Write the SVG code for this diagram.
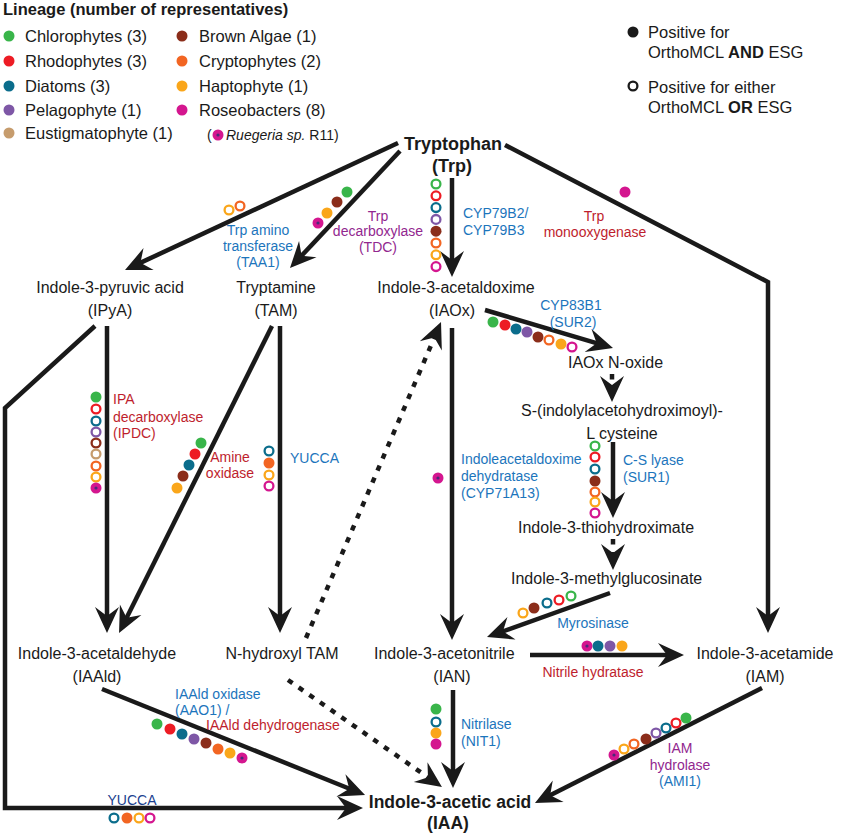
<svg xmlns="http://www.w3.org/2000/svg" width="851" height="837" viewBox="0 0 851 837">
<style>
text{font-family:"Liberation Sans",Arial,sans-serif;fill:#1a1a1a}
.n{font-size:16px}
.b{font-size:18px;font-weight:bold}
.e{font-size:14px}
.lg{font-size:16.5px}
.m{text-anchor:middle}
.bl{fill:#1c75bc}.rd{fill:#be1e2d}.pu{fill:#92278f}.nv{fill:#1b3f8f}
.ln{stroke:#1a1a1a;stroke-width:4.5;fill:none;stroke-linejoin:miter}
.dt{stroke-dasharray:5.5 7.5}
.fg{fill:#39b54a}.fr{fill:#ed1c24}.ft{fill:#0b6d8c}.fp{fill:#7e57a6}.fn{fill:#c69c6d}.fb{fill:#8b2d1a}.fo{fill:#f26522}.fy{fill:#faa61a}.fm{fill:#d4168f}.fk{fill:#1a1a1a}
.o{fill:#fff;stroke-width:2.3}
.og{stroke:#39b54a}.or{stroke:#ed1c24}.ot{stroke:#0b6d8c}.op{stroke:#7e57a6}.on{stroke:#c69c6d}.ob{stroke:#8b2d1a}.oo{stroke:#f26522}.oy{stroke:#faa61a}.om{stroke:#d4168f}.ok{stroke:#1a1a1a}
</style>
<defs>
<marker id="ah" markerUnits="userSpaceOnUse" markerWidth="40" markerHeight="40" viewBox="-20 -20 40 40" refX="0" refY="0" orient="auto"><path d="M12,0 L-14,-12 L-5,0 L-14,12 Z" fill="#1a1a1a"/></marker>
<g id="rg"><circle r="5.5" fill="#d4168f"/><circle r="1.6" fill="#4b2a7a"/></g>
</defs>
<rect width="851" height="837" fill="#fff"/>

<g id="legend">
<text x="3" y="15" style="font-size:16.5px;font-weight:bold">Lineage (number of representatives)</text>
<circle cx="9" cy="36" r="5.5" class="fg"/><text x="25" y="42" class="lg">Chlorophytes (3)</text>
<circle cx="9" cy="61" r="5.5" class="fr"/><text x="25" y="67" class="lg">Rhodophytes (3)</text>
<circle cx="9" cy="86" r="5.5" class="ft"/><text x="25" y="92" class="lg">Diatoms (3)</text>
<circle cx="9" cy="110" r="5.5" class="fp"/><text x="25" y="116" class="lg">Pelagophyte (1)</text>
<circle cx="9" cy="133" r="5.5" class="fn"/><text x="25" y="139" class="lg">Eustigmatophyte (1)</text>
<circle cx="182" cy="36" r="5.5" class="fb"/><text x="199" y="42" class="lg">Brown Algae (1)</text>
<circle cx="182" cy="61" r="5.5" class="fo"/><text x="199" y="67" class="lg">Cryptophytes (2)</text>
<circle cx="182" cy="86" r="5.5" class="fy"/><text x="199" y="92" class="lg">Haptophyte (1)</text>
<circle cx="182" cy="110" r="5.5" class="fm"/><text x="199" y="116" class="lg">Roseobacters (8)</text>
<text x="207" y="140" class="e">(</text><use href="#rg" x="218" y="135"/><text x="226" y="140" class="e"><tspan font-style="italic">Ruegeria sp.</tspan> R11)</text>
<circle cx="633" cy="32" r="5.5" class="fk"/><text x="648" y="38" class="lg">Positive for</text><text x="648" y="58" class="lg">OrthoMCL <tspan font-weight="bold">AND</tspan> ESG</text>
<circle cx="633" cy="86" r="4.4" class="o ok"/><text x="648" y="93" class="lg">Positive for either</text><text x="648" y="113" class="lg">OrthoMCL <tspan font-weight="bold">OR</tspan> ESG</text>
</g>

<g id="connectors">
<line class="ln" x1="398" y1="143" x2="135.9" y2="264.9" marker-end="url(#ah)"/>
<line class="ln" x1="400" y1="151" x2="298.2" y2="259.3" marker-end="url(#ah)"/>
<line class="ln" x1="452" y1="178" x2="452" y2="265" marker-end="url(#ah)"/>
<polyline class="ln" points="505,145 768,282 768,621" marker-end="url(#ah)"/>
<line class="ln" x1="485" y1="310" x2="601.5" y2="344.6" marker-end="url(#ah)"/>
<line class="ln dt" x1="612" y1="374" x2="612" y2="390" marker-end="url(#ah)"/>
<line class="ln" x1="613" y1="442" x2="613" y2="506" marker-end="url(#ah)"/>
<line class="ln dt" x1="613" y1="539" x2="613" y2="558" marker-end="url(#ah)"/>
<line class="ln" x1="610" y1="593" x2="498.3" y2="633" marker-end="url(#ah)"/>
<line class="ln" x1="452" y1="328" x2="452" y2="628" marker-end="url(#ah)"/>
<line class="ln" x1="530" y1="655" x2="672" y2="655" marker-end="url(#ah)"/>
<line class="ln" x1="107" y1="326" x2="107" y2="621" marker-end="url(#ah)"/>
<line class="ln" x1="272" y1="326" x2="124.4" y2="622.3" marker-end="url(#ah)"/>
<line class="ln" x1="280" y1="326" x2="280" y2="621" marker-end="url(#ah)"/>
<line class="ln dt" x1="306" y1="638" x2="436.3" y2="333" marker-end="url(#ah)"/>
<line class="ln dt" x1="288" y1="680" x2="432.1" y2="780.2" marker-end="url(#ah)"/>
<line class="ln" x1="453" y1="690" x2="453" y2="776" marker-end="url(#ah)"/>
<line class="ln" x1="102" y1="689" x2="353.9" y2="790.5" marker-end="url(#ah)"/>
<polyline class="ln" points="95,326 5,408 5,808 351,808" marker-end="url(#ah)"/>
<line class="ln" x1="762" y1="688" x2="545.7" y2="797.6" marker-end="url(#ah)"/>
</g>

<g id="trp"><text x="453" y="150" class="b m">Tryptophan</text><text x="452" y="172" class="b m">(Trp)</text></g>
<g id="ipya"><text x="110" y="293" class="n m">Indole-3-pyruvic acid</text><text x="110" y="316" class="n m">(IPyA)</text></g>
<g id="tam"><text x="276" y="293" class="n m">Tryptamine</text><text x="276" y="316" class="n m">(TAM)</text></g>
<g id="iaox"><text x="456" y="293" class="n m">Indole-3-acetaldoxime</text><text x="452" y="316" class="n m">(IAOx)</text></g>
<g id="iaoxno"><text x="568" y="368" class="n">IAOx N-oxide</text></g>
<g id="scys"><text x="622" y="416" class="n m">S-(indolylacetohydroximoyl)-</text><text x="622" y="439" class="n m">L cysteine</text></g>
<g id="thio"><text x="518" y="533" class="n">Indole-3-thiohydroximate</text></g>
<g id="imglu"><text x="511" y="584" class="n">Indole-3-methylglucosinate</text></g>
<g id="iaald"><text x="97" y="659" class="n m">Indole-3-acetaldehyde</text><text x="97" y="682" class="n m">(IAAld)</text></g>
<g id="nhtam"><text x="282" y="659" class="n m">N-hydroxyl TAM</text></g>
<g id="ian"><text x="374" y="659" class="n">Indole-3-acetonitrile</text><text x="452" y="682" class="n m">(IAN)</text></g>
<g id="iam"><text x="765" y="659" class="n m">Indole-3-acetamide</text><text x="765" y="682" class="n m">(IAM)</text></g>
<g id="iaa"><text x="450" y="808" class="b m" style="font-size:17.5px">Indole-3-acetic acid</text><text x="448" y="829" class="b m" style="font-size:17.5px">(IAA)</text></g>

<g id="enzymes">
<text x="258" y="235" class="e m bl">Trp amino</text><text x="258" y="251" class="e m bl">transferase</text><text x="258" y="267" class="e m bl">(TAA1)</text>
<text x="378" y="221" class="e m pu">Trp</text><text x="378" y="236" class="e m pu">decarboxylase</text><text x="378" y="252" class="e m pu">(TDC)</text>
<text x="463" y="218" class="e bl">CYP79B2/</text><text x="463" y="235" class="e bl">CYP79B3</text>
<text x="594" y="221" class="e m rd">Trp</text><text x="595" y="237" class="e m rd">monooxygenase</text>
<text x="571" y="310" class="e m bl">CYP83B1</text><text x="573" y="327" class="e m bl">(SUR2)</text>
<text x="113" y="404" class="e rd">IPA</text><text x="113" y="422" class="e rd">decarboxylase</text><text x="113" y="438" class="e rd">(IPDC)</text>
<text x="230" y="462" class="e m rd">Amine</text><text x="230" y="478" class="e m rd">oxidase</text>
<text x="290" y="463" class="e bl">YUCCA</text>
<text x="461" y="464" class="e bl">Indoleacetaldoxime</text><text x="461" y="481" class="e bl">dehydratase</text><text x="461" y="498" class="e bl">(CYP71A13)</text>
<text x="623" y="465" class="e bl">C-S lyase</text><text x="623" y="482" class="e bl">(SUR1)</text>
<text x="593" y="628" class="e m bl">Myrosinase</text>
<text x="593" y="677" class="e m rd">Nitrile hydratase</text>
<text x="461" y="729" class="e bl">Nitrilase</text><text x="461" y="746" class="e bl">(NIT1)</text>
<text x="175" y="699" class="e bl">IAAld oxidase</text><text x="175" y="715" class="e bl">(AAO1) /</text><text x="206" y="730" class="e rd">IAAld dehydrogenase</text>
<text x="132" y="805" class="e m nv">YUCCA</text>
<text x="680" y="753" class="e m pu">IAM</text><text x="680" y="770" class="e m pu">hydrolase</text><text x="680" y="786" class="e m bl">(AMI1)</text>
</g>

<g id="dots">
<circle cx="229" cy="210" r="4.4" class="o oy"/><circle cx="240" cy="206" r="4.4" class="o oo"/>
<circle cx="347" cy="192" r="5.5" class="fg"/><circle cx="337" cy="202" r="5.5" class="fb"/><circle cx="327" cy="213" r="5.5" class="fy"/><use href="#rg" x="318" y="223"/>
<circle cx="436" cy="184" r="4.4" class="o og"/><circle cx="436" cy="195.8" r="4.4" class="o or"/><circle cx="436" cy="207.6" r="4.4" class="o ot"/><circle cx="436" cy="219.4" r="4.4" class="o op"/><circle cx="436" cy="231.2" r="5.5" class="fb"/><circle cx="436" cy="243" r="4.4" class="o oo"/><circle cx="436" cy="254.8" r="4.4" class="o oy"/><circle cx="436" cy="266.6" r="4.4" class="o om"/>
<circle cx="625" cy="192" r="5.5" class="fm"/>
<circle cx="493" cy="322" r="5.5" class="fg"/><circle cx="505" cy="325" r="5.5" class="fr"/><circle cx="516" cy="329" r="5.5" class="ft"/><circle cx="527" cy="332" r="5.5" class="fp"/><circle cx="538" cy="337" r="5.5" class="fb"/><circle cx="549" cy="340" r="4.4" class="o oo"/><circle cx="561" cy="344" r="5.5" class="fy"/><circle cx="572" cy="347" r="4.4" class="o om"/>
<circle cx="96" cy="397" r="5.5" class="fg"/><circle cx="96" cy="409" r="4.4" class="o or"/><circle cx="96" cy="421" r="4.4" class="o ot"/><circle cx="96" cy="432" r="4.4" class="o op"/><circle cx="96" cy="443" r="4.4" class="o ob"/><circle cx="96" cy="454" r="4.4" class="o on"/><circle cx="96" cy="466" r="4.4" class="o oo"/><circle cx="96" cy="477" r="4.4" class="o oy"/><use href="#rg" x="96" y="488"/>
<circle cx="201" cy="443" r="5.5" class="fg"/><circle cx="195" cy="454" r="5.5" class="fr"/><circle cx="189" cy="465" r="5.5" class="ft"/><circle cx="183" cy="476" r="5.5" class="fb"/><circle cx="177" cy="488" r="5.5" class="fy"/>
<circle cx="269" cy="451" r="4.4" class="o ot"/><circle cx="269" cy="463" r="5.5" class="fo"/><circle cx="269" cy="475" r="4.4" class="o oy"/><circle cx="269" cy="486" r="4.4" class="o om"/>
<use href="#rg" x="438" y="478"/>
<circle cx="595" cy="446" r="4.4" class="o og"/><circle cx="595" cy="457" r="4.4" class="o or"/><circle cx="595" cy="469" r="4.4" class="o ot"/><circle cx="595" cy="481" r="5.5" class="fb"/><circle cx="595" cy="492" r="4.4" class="o oo"/><circle cx="595" cy="502" r="4.4" class="o oy"/><circle cx="595" cy="513" r="4.4" class="o om"/>
<circle cx="523" cy="613" r="4.4" class="o oy"/><circle cx="534" cy="608" r="5.5" class="fb"/><circle cx="547" cy="603" r="4.4" class="o ot"/><circle cx="559" cy="600" r="4.4" class="o or"/><circle cx="571" cy="596" r="4.4" class="o og"/>
<use href="#rg" x="587" y="646"/><circle cx="598" cy="646" r="5.5" class="ft"/><circle cx="610" cy="646" r="5.5" class="fp"/><circle cx="622" cy="646" r="5.5" class="fy"/>
<circle cx="436" cy="709" r="5.5" class="fg"/><circle cx="436" cy="722" r="4.4" class="o ot"/><circle cx="436" cy="733" r="5.5" class="fy"/><circle cx="436" cy="744" r="5.5" class="fm"/>
<circle cx="157" cy="724" r="5.5" class="fg"/><circle cx="170" cy="729" r="5.5" class="fr"/><circle cx="182" cy="734" r="5.5" class="ft"/><circle cx="194" cy="739" r="5.5" class="fp"/><circle cx="206" cy="743" r="5.5" class="fb"/><circle cx="218" cy="749" r="5.5" class="fo"/><circle cx="230" cy="753" r="5.5" class="fy"/><use href="#rg" x="242" y="758"/>
<circle cx="114" cy="818" r="4.4" class="o ot"/><circle cx="127" cy="818" r="5.5" class="fo"/><circle cx="139" cy="818" r="4.4" class="o oy"/><circle cx="150" cy="818" r="4.4" class="o om"/>
<use href="#rg" x="614" y="755"/><circle cx="624" cy="749" r="4.4" class="o oy"/><circle cx="634" cy="744" r="4.4" class="o oo"/><circle cx="646" cy="739" r="5.5" class="fb"/><circle cx="656" cy="733" r="4.4" class="o op"/><circle cx="666" cy="728" r="4.4" class="o ot"/><circle cx="676" cy="723" r="4.4" class="o or"/><circle cx="686" cy="718" r="5.5" class="fg"/>
</g>
</svg>
